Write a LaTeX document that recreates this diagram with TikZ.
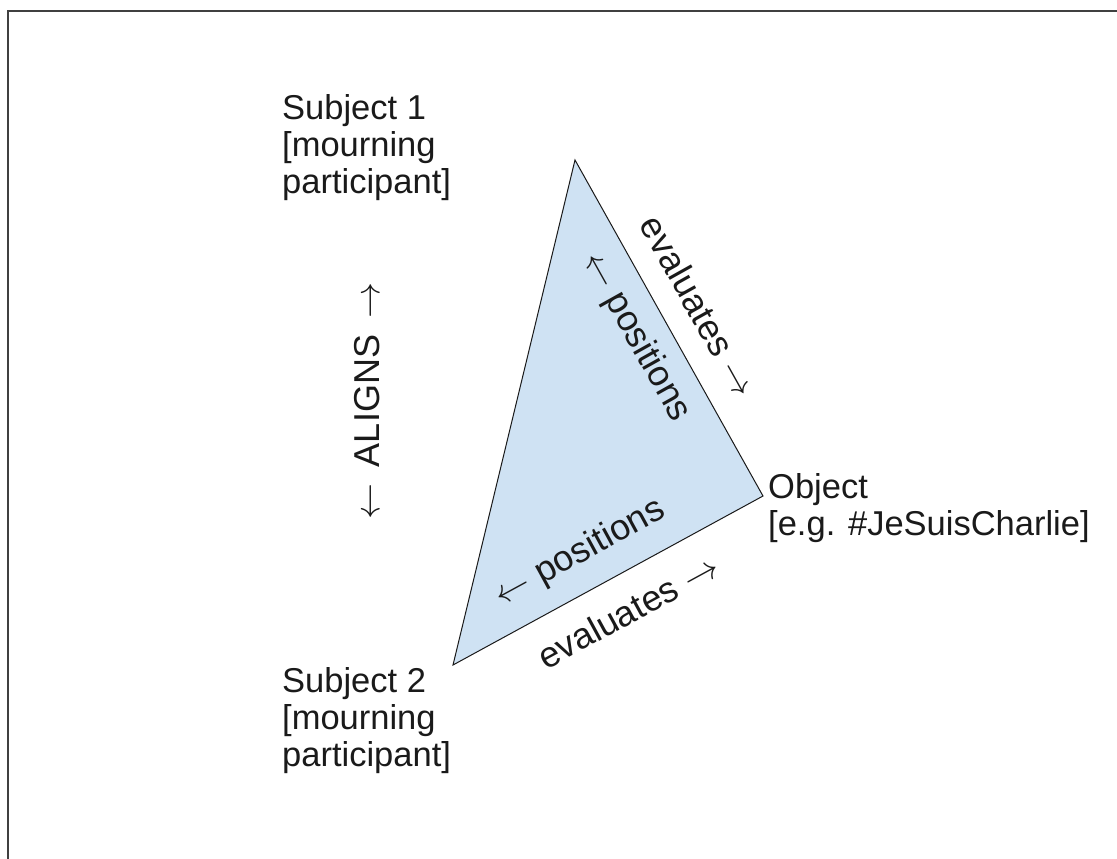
\RequirePackage{fix-cm}
\documentclass[tikz,border=0pt]{standalone}
\usepackage{fontspec}
\setmainfont{Liberation Sans}
\definecolor{tri}{HTML}{CFE2F3}
\definecolor{ink}{HTML}{1A1A1A}
\newcommand{\ra}{\ensuremath{\rightarrow}}
\newcommand{\la}{\ensuremath{\leftarrow}}
\begin{document}
\begin{tikzpicture}[x=1pt,y=-1pt,
  lbl/.style={font=\fontsize{34.5}{37}\selectfont, inner sep=0pt, align=left, text=ink},
  edgelbl/.style={font=\fontsize{36}{40}\selectfont, inner sep=0pt, text=ink}]
\useasboundingbox (0,0) rectangle (1117,859);
\draw[line width=1.5pt, black!75] (8,859) -- (8,11) -- (1117,11);
\coordinate (A) at (575,160);
\coordinate (B) at (763,496);
\coordinate (C) at (453,665);
\filldraw[fill=tri, draw=ink, line width=1pt, line join=miter] (A) -- (B) -- (C) -- cycle;
\node[lbl, anchor=north west] (s1) at (282,94) {Subject 1\\{}[mourning\\participant]};
\node[lbl, anchor=north west] (s2) at (282,667) {Subject 2\\{}[mourning\\participant]};
\node[lbl, anchor=north west] (obj) at (768,473) {Object\\{}[e.g. \#JeSuisCharlie]};
\node[edgelbl, rotate=-60.8] (ev1) at (699,306) {evaluates \ra};
\node[edgelbl, rotate=-60.8] (po1) at (636,337) {\la{} positions};
\node[edgelbl, rotate=28.6] (po2) at (580,553) {\la{} positions};
\node[edgelbl, rotate=28.6] (ev2) at (628,611) {evaluates \ra};
\node[edgelbl, rotate=90] (al) at (367,401) {\la\hspace{0.45em}ALIGNS\hspace{0.45em}\ra};
\end{tikzpicture}
\end{document}
